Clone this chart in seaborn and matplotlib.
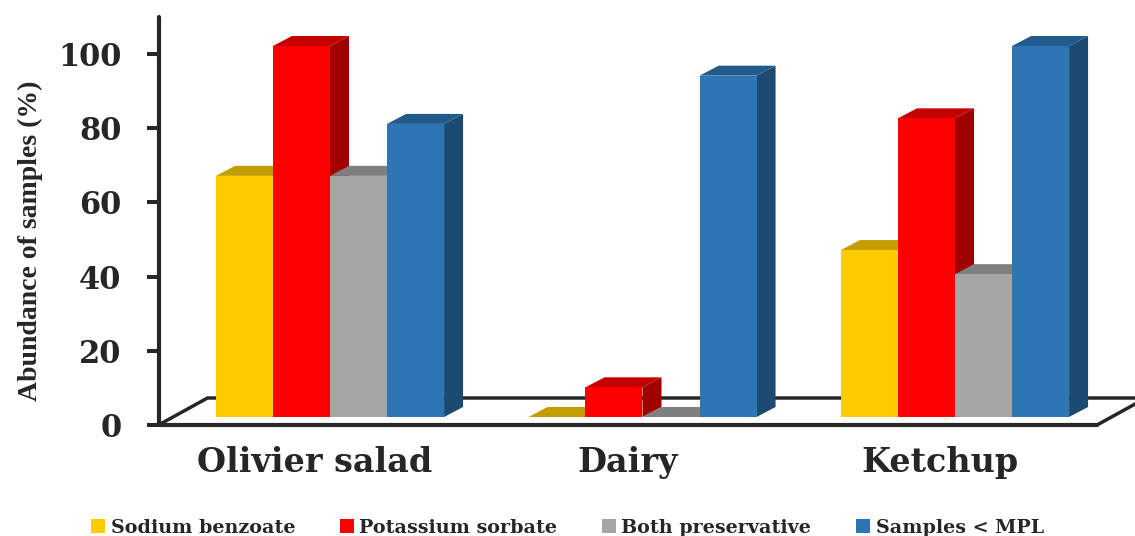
import matplotlib
matplotlib.use("Agg")
import matplotlib.pyplot as plt
from matplotlib.colors import to_rgb
from matplotlib.patches import Polygon
from matplotlib.transforms import IdentityTransform
import numpy as np
import pandas as pd
import seaborn as sns

categories = ["Olivier salad", "Dairy", "Ketchup"]
preservatives = ["Sodium benzoate", "Potassium sorbate", "Both preservative", "Samples < MPL"]
sodium_benzoate = [65, 0, 45]
potassium_sorbate = [100, 8, 80.5]
both_preservative = [65, 0, 38.5]
samples_below_mpl = [79, 92, 100]
bar_colors = ["#FFCC00", "#FF0000", "#A5A5A5", "#2E75B6"]
y_ticks = [0, 20, 40, 60, 80, 100]

INK = "#262626"
W, H = 1135, 536
AX_L, AX_R, AX_T, AX_B = 158.5, 1097, 17, 425
PX_PER_UNIT = 3.71
PX_PER_CAT = 312.5
LIFT = 8 / PX_PER_UNIT          # bars stand slightly behind the front floor edge
DEPTH_X = 19 / PX_PER_CAT       # extrusion of each bar
DEPTH_Y = 10 / PX_PER_UNIT

sns.set_style("white")

rows = []
series = [sodium_benzoate, potassium_sorbate, both_preservative, samples_below_mpl]
for name, values in zip(preservatives, series):
    for cat, value in zip(categories, values):
        rows.append({"category": cat, "preservative": name, "abundance": value})
df = pd.DataFrame(rows)

fig = plt.figure(figsize=(W / 100, H / 100), dpi=100, facecolor="white")
ax = fig.add_axes([AX_L / W, 1 - AX_B / H, (AX_R - AX_L) / W, (AX_B - AX_T) / H])
ax.patch.set_alpha(0)

sns.barplot(
    data=df, x="category", y="abundance", hue="preservative",
    hue_order=preservatives, order=categories, palette=bar_colors,
    width=0.73, gap=0, saturation=1, errorbar=None,
    linewidth=0, zorder=3, ax=ax,
)

ax.set_xlim((AX_L - 330) / PX_PER_CAT, (AX_R - 330) / PX_PER_CAT)
ax.set_ylim(0, (AX_B - AX_T) / PX_PER_UNIT)


def shade(color, factor):
    return tuple(c * factor for c in to_rgb(color))


# Raise each bar onto the floor and add its top and side faces
for container, color in zip(ax.containers, bar_colors):
    for bar in container:
        bar.set_y(LIFT)
        x0, x1 = bar.get_x(), bar.get_x() + bar.get_width()
        y0, y1 = bar.get_y(), bar.get_y() + bar.get_height()
        top = [(x0, y1), (x1, y1), (x1 + DEPTH_X, y1 + DEPTH_Y), (x0 + DEPTH_X, y1 + DEPTH_Y)]
        ax.add_patch(Polygon(top, closed=True, fc=shade(color, 0.77), ec="none", zorder=2.5))
        if y1 > y0:
            side = [(x1, y0), (x1 + DEPTH_X, y0 + DEPTH_Y), (x1 + DEPTH_X, y1 + DEPTH_Y), (x1, y1)]
            ax.add_patch(Polygon(side, closed=True, fc=shade(color, 0.63), ec="none", zorder=2))

# Floor outline, running off the right edge of the figure
front_left = ax.transAxes.transform((0, 0))
front_right = ax.transAxes.transform((1, 0))
floor_depth = np.array([49, 27])
floor = Polygon(
    [front_left, front_left + floor_depth, front_right + floor_depth, front_right],
    closed=True, fill=False, ec=INK, lw=2.5, joinstyle="miter",
    transform=IdentityTransform(), zorder=1, clip_on=False,
)
ax.add_artist(floor)

# Axes
sns.despine(ax=ax, top=True, right=True)
for side_name in ("left", "bottom"):
    ax.spines[side_name].set_linewidth(3.0)
    ax.spines[side_name].set_color(INK)
    ax.spines[side_name].set_capstyle("round")
ax.spines["left"].set_zorder(4)

ax.set_yticks(y_ticks)
ax.tick_params(axis="y", length=8.6, width=2.9, color=INK, pad=18, left=True)
ax.set_yticklabels([str(v) for v in y_ticks], family="DejaVu Serif", weight="bold",
                   fontsize=22, color=INK)
ax.set_xticks(np.arange(len(categories)) - 0.048)
ax.set_xticklabels(categories, family="DejaVu Serif", weight="bold", fontsize=24, color=INK)
ax.tick_params(axis="x", length=0, pad=15)
ax.set_xlabel("")
ax.set_ylabel("")
fig.text(30 / W, 1 - 241 / H, "Abundance of samples (%)", rotation=90, ha="center", va="center",
         family="Liberation Serif", weight="bold", fontsize=20, color=INK)

sns.move_legend(
    ax, "center", bbox_to_anchor=(567.5 / W, 1 - 528 / H), bbox_transform=fig.transFigure,
    ncol=4, title=None, frameon=False, handlelength=0.72, handleheight=0.72,
    handletextpad=0.28, columnspacing=2.35, borderpad=0, borderaxespad=0,
    prop={"family": "DejaVu Serif", "weight": "bold", "size": 13.8},
)
for text in ax.get_legend().get_texts():
    text.set_color(INK)

fig.savefig("out.png", dpi=100, facecolor="white")
